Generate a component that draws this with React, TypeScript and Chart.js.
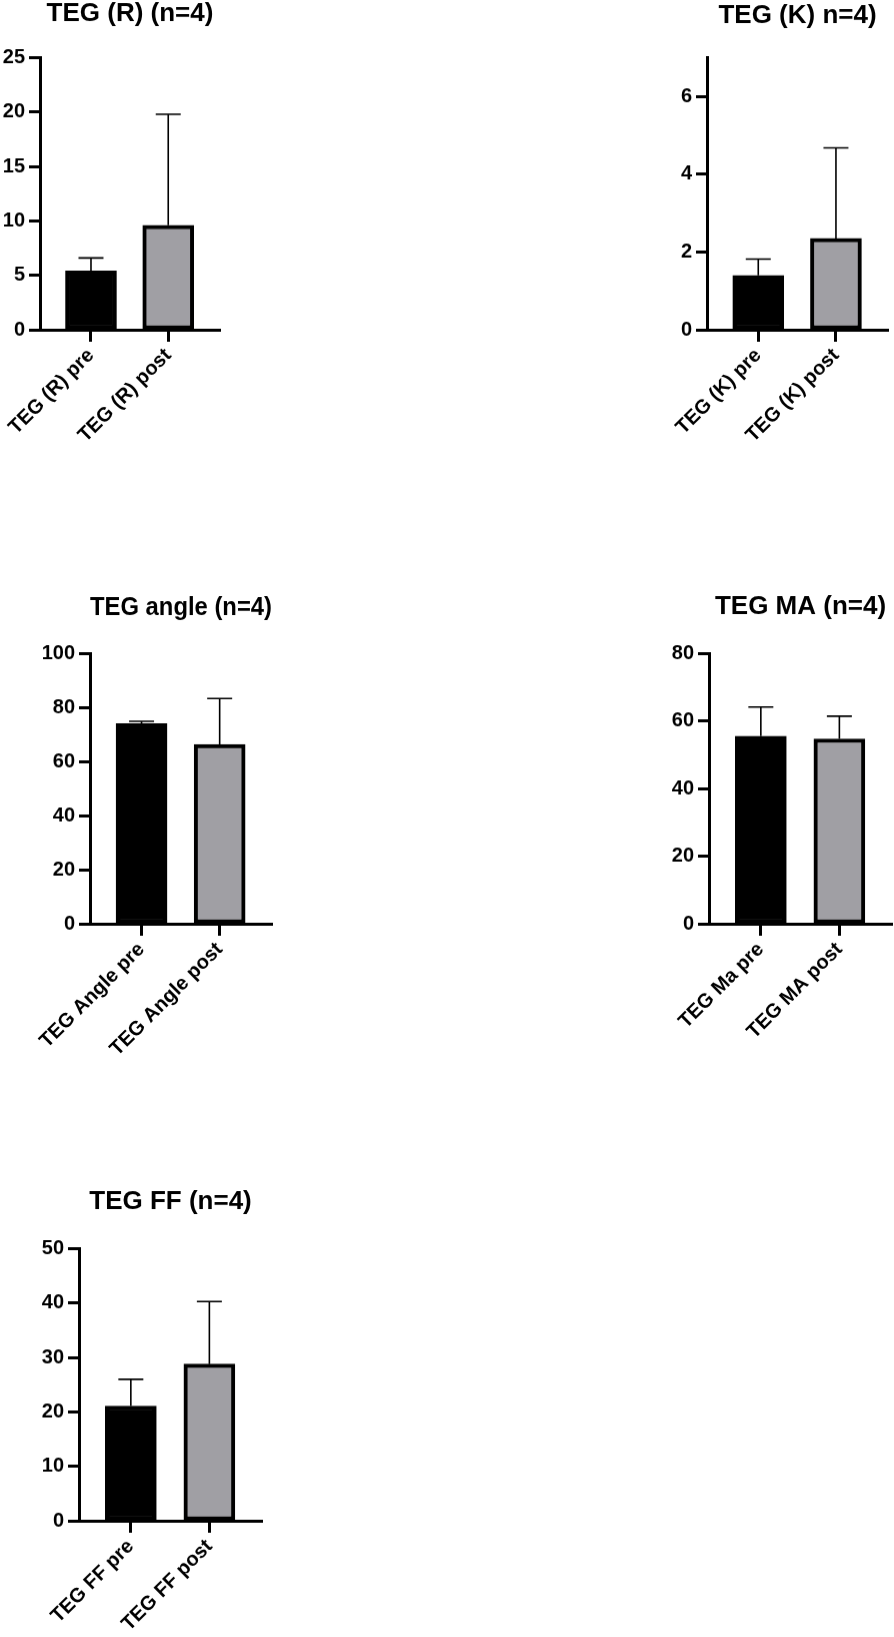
import { useEffect, useRef } from 'react';
import { Chart, registerables } from 'chart.js';

Chart.register(...registerables);

const FONT = '"Liberation Sans", Arial, sans-serif';

// values: bar = mean, whisker = mean + SD
const rLabels = ['TEG (R) pre', 'TEG (R) post'];
const rMeans = [5.4, 9.6];
const rSd = [1.2, 10.2];
const rTicks = [0, 5, 10, 15, 20, 25];

const kLabels = ['TEG (K) pre', 'TEG (K) post'];
const kMeans = [1.4, 2.35];
const kSd = [0.42, 2.33];
const kTicks = [0, 2, 4, 6];

const angleLabels = ['TEG Angle pre', 'TEG Angle post'];
const angleMeans = [74.1, 66.4];
const angleSd = [0.9, 17.0];
const angleTicks = [0, 20, 40, 60, 80, 100];

const maLabels = ['TEG Ma pre', 'TEG MA post'];
const maMeans = [55.6, 54.8];
const maSd = [8.6, 6.7];
const maTicks = [0, 20, 40, 60, 80];

const ffLabels = ['TEG FF pre', 'TEG FF post'];
const ffMeans = [21.1, 28.8];
const ffSd = [4.9, 11.5];
const ffTicks = [0, 10, 20, 30, 40, 50];

type Area = { left: number; right: number; top: number; bottom: number };

const TITLE_SIZE = 26;
const TICK_SIZE = 20;

function TegPanel({
	title,
	labels,
	means,
	sd,
	ticks,
	yMax,
	area,
	titleGap,
}: {
	title: string;
	labels: string[];
	means: number[];
	sd: number[];
	ticks: number[];
	yMax: number;
	area: Area;
	titleGap: number;
}) {
	const ref = useRef<HTMLCanvasElement>(null);

	const half = (TITLE_SIZE * 1.2) / 2;
	const left = area.left - 80;
	const top = area.top - titleGap - half;
	const right = Math.min(area.right + 12, 894);
	const bottom = area.bottom + 130;
	const width = right - left;
	const height = bottom - top;

	useEffect(() => {
		if (!ref.current) return;

		const errorBars = {
			id: 'errorBars',
			afterDatasetsDraw(chart: Chart) {
				const { ctx } = chart;
				const y = chart.scales.y;
				const meta = chart.getDatasetMeta(0);
				ctx.save();
				ctx.strokeStyle = '#000';
				ctx.lineWidth = 1.6;
				meta.data.forEach((bar: any, i: number) => {
					const yTop = y.getPixelForValue(means[i] + sd[i]);
					ctx.beginPath();
					ctx.moveTo(bar.x, bar.y);
					ctx.lineTo(bar.x, yTop);
					ctx.moveTo(bar.x - 12.5, yTop);
					ctx.lineTo(bar.x + 12.5, yTop);
					ctx.stroke();
				});
				ctx.restore();
			},
		};

		const chart = new Chart(ref.current, {
			type: 'bar',
			data: {
				datasets: [
					{
						data: means.map((m, i) => ({ x: i, y: m })),
						backgroundColor: ['#000000', '#a09fa4'],
						borderColor: '#000000',
						borderWidth: 4,
						borderSkipped: false,
						barThickness: 51,
					},
				],
			},
			options: {
				animation: false,
				responsive: false,
				devicePixelRatio: 1,
				layout: { padding: { left: 0, top: 0, right: right - area.right, bottom: 0 } },
				plugins: {
					legend: { display: false },
					tooltip: { enabled: false },
					title: {
						display: true,
						text: title,
						fullSize: false,
						color: '#000',
						font: { family: FONT, size: TITLE_SIZE, weight: 'bold', lineHeight: 1.2 },
						padding: { top: 0, bottom: titleGap - half },
					},
				},
				scales: {
					x: {
						type: 'linear',
						min: -0.66,
						max: 1.67,
						offset: false,
						afterBuildTicks: (s: any) => {
							s.ticks = labels.map((_, i) => ({ value: i }));
						},
						afterFit: (s: any) => {
							s.height = bottom - area.bottom;
						},
						grid: {
							offset: false,
							drawOnChartArea: false,
							drawTicks: true,
							tickLength: 12,
							tickColor: '#000',
							tickWidth: 3,
						},
						border: { display: true, color: '#000', width: 3 },
						ticks: {
							autoSkip: false,
							minRotation: 45,
							maxRotation: 45,
							padding: 2,
							color: '#000',
							font: { family: FONT, size: TICK_SIZE, weight: 'bold' },
							callback: (_v: any, i: number) => labels[i],
						},
					},
					y: {
						min: 0,
						max: yMax,
						afterBuildTicks: (s: any) => {
							s.ticks = ticks.map((v) => ({ value: v }));
						},
						afterFit: (s: any) => {
							s.width = area.left - left;
						},
						grid: {
							drawOnChartArea: false,
							drawTicks: true,
							tickLength: 11,
							tickColor: '#000',
							tickWidth: 3,
						},
						border: { display: true, color: '#000', width: 3 },
						ticks: {
							padding: 4,
							color: '#000',
							font: { family: FONT, size: TICK_SIZE, weight: 'bold' },
						},
					},
				},
			},
			plugins: [errorBars],
		});

		return () => chart.destroy();
	});

	return (
		<canvas
			ref={ref}
			width={width}
			height={height}
			style={{ position: 'absolute', left, top, width, height }}
		/>
	);
}

export default function App() {
	return (
		<div
			style={{
				position: 'absolute',
				left: 0,
				top: 0,
				width: 894,
				height: 1637,
				overflow: 'hidden',
				background: '#fff',
			}}
		>
			<TegPanel
				title="TEG (R) (n=4)"
				labels={rLabels}
				means={rMeans}
				sd={rSd}
				ticks={rTicks}
				yMax={25}
				area={{ left: 40, right: 220, top: 58, bottom: 330 }}
				titleGap={44}
			/>
			<TegPanel
				title="TEG (K) n=4)"
				labels={kLabels}
				means={kMeans}
				sd={kSd}
				ticks={kTicks}
				yMax={7}
				area={{ left: 707, right: 888, top: 58, bottom: 330 }}
				titleGap={42}
			/>
			<TegPanel
				title="TEG angle (n=4)"
				labels={angleLabels}
				means={angleMeans}
				sd={angleSd}
				ticks={angleTicks}
				yMax={100}
				area={{ left: 90, right: 272, top: 654, bottom: 924 }}
				titleGap={46}
			/>
			<TegPanel
				title="TEG MA (n=4)"
				labels={maLabels}
				means={maMeans}
				sd={maSd}
				ticks={maTicks}
				yMax={80}
				area={{ left: 709, right: 892, top: 654, bottom: 924 }}
				titleGap={47}
			/>
			<TegPanel
				title="TEG FF (n=4)"
				labels={ffLabels}
				means={ffMeans}
				sd={ffSd}
				ticks={ffTicks}
				yMax={50}
				area={{ left: 79, right: 262, top: 1249, bottom: 1521 }}
				titleGap={47}
			/>
		</div>
	);
}
